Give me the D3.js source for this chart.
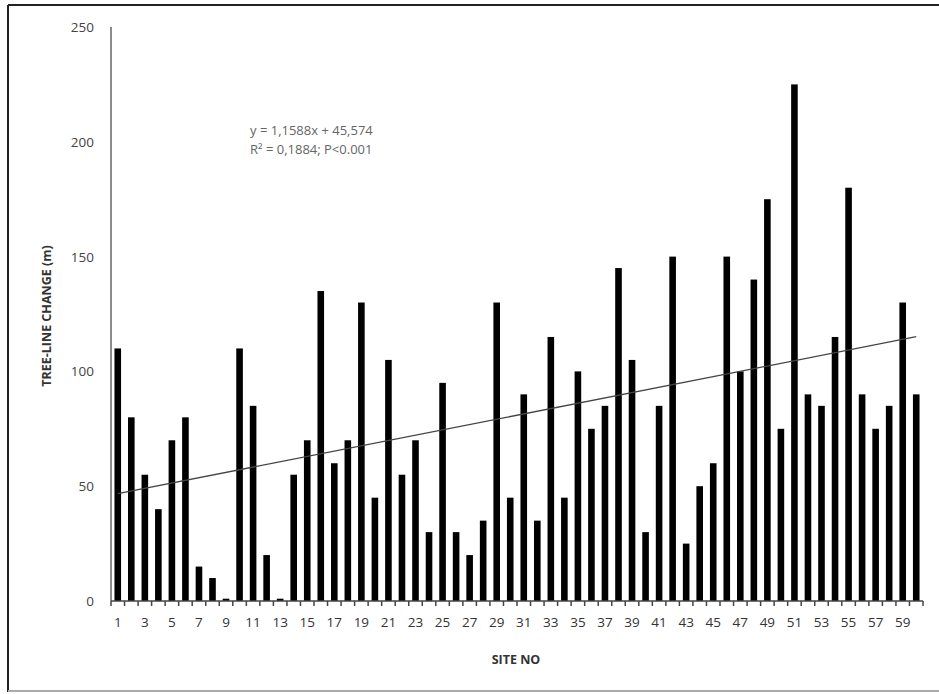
<!DOCTYPE html>
<html>
<head>
<meta charset="utf-8">
<script src="https://cdn.jsdelivr.net/npm/d3@7"></script>
<style>
  body { margin: 0; background: #fff; }
  svg { display: block; font-family: "Open Sans", "DejaVu Sans", sans-serif; }
</style>
</head>
<body>
<div id="grafico"></div>
<script>
// dados
const sites = d3.range(1, 61);
const mudanca = [
  110, 80, 55, 40, 70, 80, 15, 10, 1, 110,
  85, 20, 1, 55, 70, 135, 60, 70, 130, 45,
  105, 55, 70, 30, 95, 30, 20, 35, 130, 45,
  90, 35, 115, 45, 100, 75, 85, 145, 105, 30,
  85, 150, 25, 50, 60, 150, 100, 140, 175, 75,
  225, 90, 85, 115, 180, 90, 75, 85, 130, 90
];
const yTicks = [0, 50, 100, 150, 200, 250];
const tendencia = { a: 1.1588, b: 45.574 };
const textoEquacao = ["y = 1,1588x + 45,574", "R² = 0,1884; P<0.001"];

const W = 939, H = 694;
const svg = d3.select("#grafico").append("svg")
  .attr("width", W).attr("height", H);

// moldura
svg.append("line").attr("x1", 8).attr("x2", W).attr("y1", 5).attr("y2", 5)
  .attr("stroke", "#222").attr("stroke-width", 2);
svg.append("line").attr("x1", 8).attr("x2", 8).attr("y1", 5).attr("y2", 692)
  .attr("stroke", "#222").attr("stroke-width", 2);
svg.append("line").attr("x1", 8).attr("x2", W).attr("y1", 691).attr("y2", 691)
  .attr("stroke", "#aaa").attr("stroke-width", 2);

// escalas
const xb = d3.scaleBand().domain(sites).range([111, 923]);
const y = d3.scaleLinear().domain([0, 250]).range([601, 27]);

// barras
svg.append("g").selectAll("rect").data(sites).join("rect")
  .attr("x", d => xb(d) + xb.bandwidth() / 2 - 3.3)
  .attr("width", 6.6)
  .attr("y", (d, i) => y(mudanca[i]))
  .attr("height", (d, i) => y(0) - y(mudanca[i]))
  .attr("fill", "#000");

// eixo y
svg.append("line").attr("x1", 111).attr("x2", 111).attr("y1", y(250)).attr("y2", y(0))
  .attr("stroke", "#666").attr("stroke-width", 1.5);
svg.append("g").selectAll("text").data(yTicks).join("text")
  .attr("x", 94).attr("y", d => y(d) + 5)
  .attr("text-anchor", "end")
  .attr("font-size", 13.5).attr("fill", "#444")
  .text(d => d);

// eixo x
svg.append("line").attr("x1", 111).attr("x2", 923).attr("y1", y(0)).attr("y2", y(0))
  .attr("stroke", "#444").attr("stroke-width", 1.5);
const limites = sites.map(d => xb(d)).concat([923]);
svg.append("g").selectAll("line").data(limites).join("line")
  .attr("x1", d => d).attr("x2", d => d)
  .attr("y1", y(0)).attr("y2", y(0) + 5)
  .attr("stroke", "#444").attr("stroke-width", 1.5);
svg.append("g").selectAll("text").data(sites.filter(d => d % 2 === 1)).join("text")
  .attr("x", d => xb(d) + xb.bandwidth() / 2)
  .attr("y", 627)
  .attr("text-anchor", "middle")
  .attr("font-size", 13.5).attr("fill", "#333")
  .text(d => d);

// linha de tendencia
const linha = d3.line()
  .x(d => xb(d) + xb.bandwidth() / 2)
  .y(d => y(tendencia.a * d + tendencia.b));
svg.append("path")
  .datum([1, 60])
  .attr("d", linha)
  .attr("fill", "none")
  .attr("stroke", "#444")
  .attr("stroke-width", 1.3);

// equacao
svg.append("g").selectAll("text").data(textoEquacao).join("text")
  .attr("x", 250).attr("y", (d, i) => 135 + i * 19)
  .attr("font-size", 13).attr("fill", "#666")
  .text(d => d);

// titulos dos eixos
svg.append("text")
  .attr("x", 516).attr("y", 664)
  .attr("text-anchor", "middle")
  .attr("font-size", 12.5).attr("font-weight", "bold").attr("fill", "#333")
  .text("SITE  NO");

svg.append("text")
  .attr("transform", "translate(51, 316) rotate(-90)")
  .attr("text-anchor", "middle")
  .attr("font-size", 12.5).attr("font-weight", "bold").attr("fill", "#333")
  .text("TREE-LINE  CHANGE (m)");
</script>
</body>
</html>
